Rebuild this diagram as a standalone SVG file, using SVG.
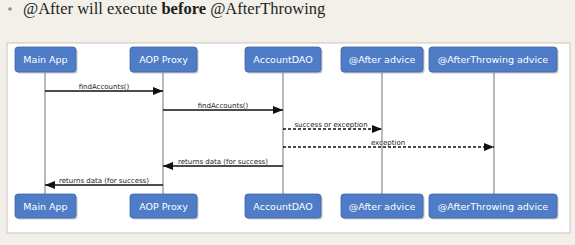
<svg xmlns="http://www.w3.org/2000/svg" width="575" height="245" viewBox="0 0 575 245">
  <style>
    .title { font-family: "Liberation Serif", "DejaVu Serif", serif; font-size: 16.5px; fill: #1e1e1e; }
    .box { fill: #4f7cc6; stroke: #3f66a8; stroke-width: 0.8; }
    .shadow { fill: #000; opacity: 0.22; }
    .boxtext { font-family: "DejaVu Sans", Verdana, sans-serif; font-size: 9.5px; fill: #ffffff; text-anchor: middle; }
    .life { stroke: #8c8c8c; stroke-width: 1.2; }
    .msg { stroke: #111; stroke-width: 1.4; fill: none; }
    .dash { stroke-dasharray: 3 2; }
    .lbl { font-family: "DejaVu Sans", Verdana, sans-serif; font-size: 7px; fill: #222; text-anchor: middle; }
  </style>
  <defs>
    <marker id="head" viewBox="0 0 10 8" refX="10" refY="4" markerWidth="10" markerHeight="8" markerUnits="userSpaceOnUse" orient="auto">
      <path d="M0,0 L10,4 L0,8 Z" fill="#111"/>
    </marker>
  </defs>

  <!-- page background -->
  <rect x="0" y="0" width="575" height="245" fill="#f3f0ea"/>
  <circle cx="10" cy="9" r="1.8" fill="#7d93b5"/>
  <text class="title" x="23" y="14">@After will execute <tspan font-weight="bold">before</tspan> @AfterThrowing</text>

  <!-- diagram panel -->
  <rect x="7" y="43" width="563" height="190" fill="#ffffff" stroke="#c9c6c1" stroke-width="1"/>

  <!-- lifelines -->
  <g id="lifelines">
    <line class="life" x1="45" y1="73" x2="45" y2="194"/>
    <line class="life" x1="163" y1="73" x2="163" y2="194"/>
    <line class="life" x1="283" y1="73" x2="283" y2="194"/>
    <line class="life" x1="382" y1="73" x2="382" y2="194"/>
    <line class="life" x1="494" y1="73" x2="494" y2="194"/>
  </g>

  <!-- participants (top) -->
  <g id="main-app-top">
    <rect class="shadow" x="16.5" y="48.5" width="61" height="25" rx="3"/>
    <rect class="box" x="15" y="47" width="61" height="25" rx="3"/>
    <text class="boxtext" x="45.5" y="63">Main App</text>
  </g>
  <g id="aop-proxy-top">
    <rect class="shadow" x="131.5" y="48.5" width="67" height="25" rx="3"/>
    <rect class="box" x="130" y="47" width="67" height="25" rx="3"/>
    <text class="boxtext" x="163.5" y="63">AOP Proxy</text>
  </g>
  <g id="account-dao-top">
    <rect class="shadow" x="246.5" y="48.5" width="76" height="25" rx="3"/>
    <rect class="box" x="245" y="47" width="76" height="25" rx="3"/>
    <text class="boxtext" x="283" y="63">AccountDAO</text>
  </g>
  <g id="after-advice-top">
    <rect class="shadow" x="342.5" y="48.5" width="82" height="25" rx="3"/>
    <rect class="box" x="341" y="47" width="82" height="25" rx="3"/>
    <text class="boxtext" x="382" y="63">@After advice</text>
  </g>
  <g id="after-throwing-top">
    <rect class="shadow" x="430.5" y="48.5" width="128" height="25" rx="3"/>
    <rect class="box" x="429" y="47" width="128" height="25" rx="3"/>
    <text class="boxtext" x="493" y="63">@AfterThrowing advice</text>
  </g>

  <!-- participants (bottom) -->
  <g id="main-app-bottom">
    <rect class="shadow" x="16.5" y="195.5" width="61" height="24" rx="3"/>
    <rect class="box" x="15" y="194" width="61" height="24" rx="3"/>
    <text class="boxtext" x="45.5" y="209.5">Main App</text>
  </g>
  <g id="aop-proxy-bottom">
    <rect class="shadow" x="131.5" y="195.5" width="67" height="24" rx="3"/>
    <rect class="box" x="130" y="194" width="67" height="24" rx="3"/>
    <text class="boxtext" x="163.5" y="209.5">AOP Proxy</text>
  </g>
  <g id="account-dao-bottom">
    <rect class="shadow" x="246.5" y="195.5" width="76" height="24" rx="3"/>
    <rect class="box" x="245" y="194" width="76" height="24" rx="3"/>
    <text class="boxtext" x="283" y="209.5">AccountDAO</text>
  </g>
  <g id="after-advice-bottom">
    <rect class="shadow" x="342.5" y="195.5" width="82" height="24" rx="3"/>
    <rect class="box" x="341" y="194" width="82" height="24" rx="3"/>
    <text class="boxtext" x="382" y="209.5">@After advice</text>
  </g>
  <g id="after-throwing-bottom">
    <rect class="shadow" x="430.5" y="195.5" width="128" height="24" rx="3"/>
    <rect class="box" x="429" y="194" width="128" height="24" rx="3"/>
    <text class="boxtext" x="493" y="209.5">@AfterThrowing advice</text>
  </g>

  <!-- messages -->
  <g id="connectors">
    <line class="msg" x1="45" y1="91" x2="163" y2="91" marker-end="url(#head)"/>
    <text class="lbl" x="104" y="88.5">findAccounts()</text>

    <line class="msg" x1="163" y1="110" x2="283" y2="110" marker-end="url(#head)"/>
    <text class="lbl" x="223" y="107.5">findAccounts()</text>

    <line class="msg dash" x1="283" y1="129" x2="382" y2="129" marker-end="url(#head)"/>
    <text class="lbl" x="331" y="126.5">success or exception</text>

    <line class="msg dash" x1="283" y1="147" x2="494" y2="147" marker-end="url(#head)"/>
    <text class="lbl" x="388" y="144.5">exception</text>

    <line class="msg" x1="283" y1="166" x2="163" y2="166" marker-end="url(#head)"/>
    <text class="lbl" x="223" y="163.5">returns data (for success)</text>

    <line class="msg" x1="163" y1="185" x2="45" y2="185" marker-end="url(#head)"/>
    <text class="lbl" x="104" y="182.5">returns data (for success)</text>
  </g>
</svg>
